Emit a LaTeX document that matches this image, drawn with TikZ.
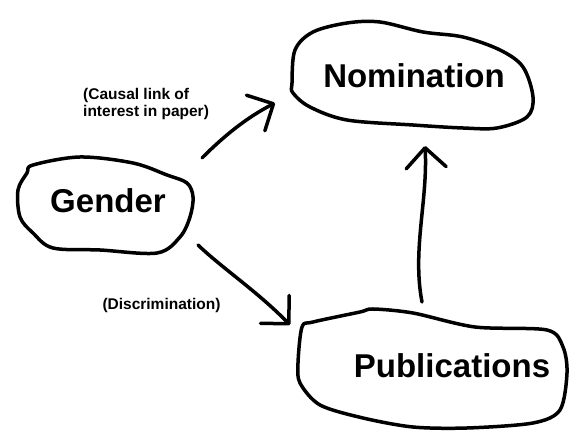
\documentclass[tikz,border=0pt]{standalone}
\usepackage{fontspec}
\setmainfont{Liberation Sans}
\usetikzlibrary{arrows.meta,calc}

\begin{document}
\begin{tikzpicture}[x=1pt, y=-1pt, >={Straight Barb[length=20pt,width=40pt,round]}]
        % Styles
        \tikzset{
          word/.style={font=\fontsize{33}{36}\selectfont\bfseries, inner sep=0pt, anchor=base},
          note/.style={font=\fontsize{15.5}{17}\selectfont\bfseries, inner sep=0pt, align=left},
          blob/.style={line width=3.5pt, line cap=round, line join=round},
          sketch/.style={line width=3.5pt, line cap=round, line join=round, ->}
        }
        \useasboundingbox (0,0) rectangle (582,446);

        % Nodes
        \node [word] (nom) at (414,88) {Nomination};
        \node [word] (gender) at (108,213) {Gender};
        \node [word] (pub) at (452,378) {Publications};
        \node [note, anchor=north west] (causal) at (83,88.5) {(Causal link of\\interest in paper)};
        \node [note, anchor=base] (discr) at (161.5,310) {(Discrimination)};

        % Blobs
        \draw [blob, shift={(nom.base)}] plot [smooth cycle, tension=0.55] coordinates {
          (-122,-5) (-119,-38) (-101,-56) (-67,-65) (-34,-66) (9,-56) (49,-51) (86,-38) (109,-21)
          (119,9) (113,29) (83,40) (49,40) (-1,37) (-67,32) (-104,19) (-121,5)};
        \draw [blob, shift={(gender.base)}] plot [smooth cycle, tension=0.55] coordinates {
          (-75,-48) (-28,-56) (25,-50) (59,-38) (79,-30) (85,-16) (82,4) (72,24) (49,40)
          (-8,37) (-55,35) (-75,20) (-88,4) (-90,-23) (-81,-40)};
        \draw [blob, shift={(pub.base)}] plot [smooth cycle, tension=0.5] coordinates {
          (-154,-15) (-150,-51) (-139,-56) (-92,-66) (-79,-69) (-39,-65) (23,-51) (95,-48) (111,-31)
          (115,-5) (108,32) (81,45) (15,50) (-39,49) (-89,40) (-132,27) (-152,5)};

        % Edge ends
        \coordinate (g2n-a) at (202,158);
        \coordinate (g2n-b) at (275,103);
        \coordinate (g2p-a) at (198,245);
        \coordinate (g2p-b) at (290,325);
        \coordinate (p2n-a) at (422,302);
        \coordinate (p2n-b) at (425,146);

        % Edges
        \draw [sketch] (g2n-a) .. controls (224,136) and (246,118) .. (g2n-b);
        \draw [sketch] (g2p-a) .. controls (222,268) and (258,292) .. (g2p-b);
        \draw [sketch] (p2n-a) .. controls (412,250) and (428,200) .. (p2n-b);

\end{tikzpicture}
\end{document}
